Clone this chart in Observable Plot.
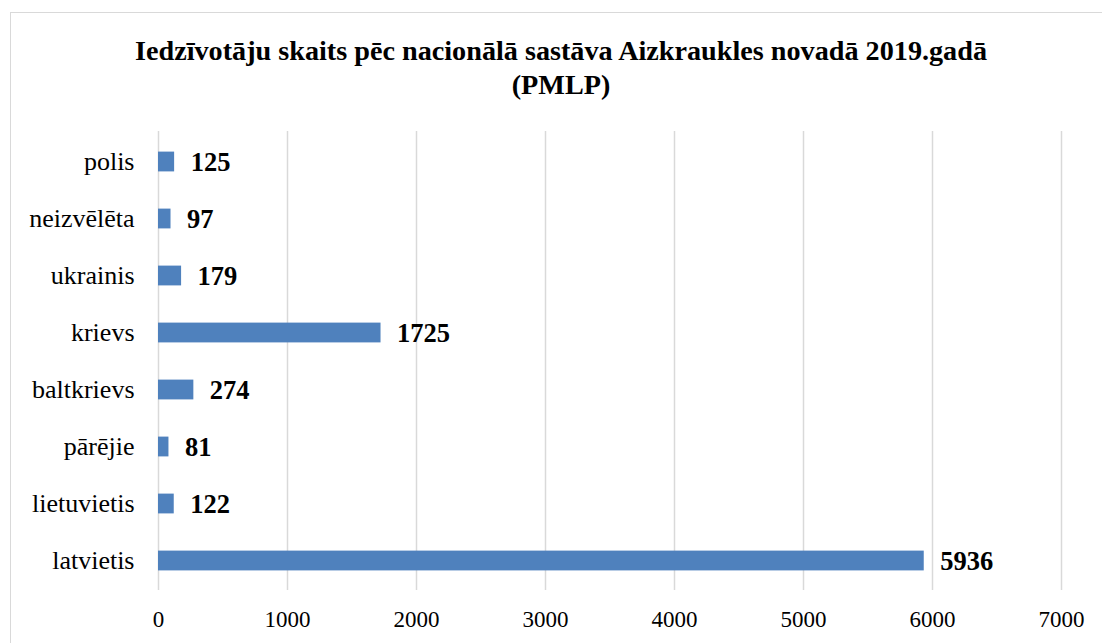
<!DOCTYPE html>
<html>
<head>
<meta charset="utf-8">
<script src="https://cdn.jsdelivr.net/npm/d3@7"></script>
<script src="https://cdn.jsdelivr.net/npm/@observablehq/plot@0.6"></script>
<style>
  html, body { margin: 0; padding: 0; background: #fff; overflow: hidden; }
  #wrap { position: relative; width: 1102px; height: 643px; font-family: 'Liberation Serif', 'Times New Roman', serif; }
  #frame { position: absolute; left: 10px; top: 12px; width: 1110px; height: 660px; border: 1.5px solid #d9d9d9; box-sizing: border-box; }
  #title { position: absolute; left: 10px; width: 1102px; top: 34px; text-align: center; font-family: 'Liberation Serif', 'Times New Roman', serif; font-weight: bold; font-size: 28.2px; line-height: 33.5px; color: #000; }
  #chart { position: absolute; left: 0; top: 0; }
  #chart svg text { font-family: 'Liberation Serif', 'Times New Roman', serif; }
</style>
</head>
<body>
<div id="wrap">
  <div id="frame"></div>
  <div id="chart"></div>
  <div id="title">Iedzīvotāju skaits pēc nacionālā sastāva Aizkraukles novadā 2019.gadā<br>(PMLP)</div>
</div>
<script>
const categories = ["polis", "neizvēlēta", "ukrainis", "krievs", "baltkrievs", "pārējie", "lietuvietis", "latvietis"];
const values = [125, 97, 179, 1725, 274, 81, 122, 5936];
const xTicks = [0, 1000, 2000, 3000, 4000, 5000, 6000, 7000];

const data = categories.map((c, i) => ({category: c, value: values[i]}));

const chart = Plot.plot({
  width: 1102,
  height: 643,
  marginLeft: 158,
  marginRight: 41,
  marginTop: 131,
  marginBottom: 53,
  style: {fontFamily: "'Liberation Serif', 'Times New Roman', serif", background: "transparent", color: "#000"},
  x: {domain: [0, 7000], ticks: xTicks, label: null, tickSize: 0, tickPadding: 20, tickFormat: d => String(d)},
  y: {domain: categories, label: null, tickSize: 0, tickPadding: 24, padding: 0},
  marks: [
    Plot.gridX(xTicks, {stroke: "#d9d9d9", strokeOpacity: 1, strokeWidth: 1.5}),
    Plot.barX(data, {x: "value", y: "category", fill: "#4f81bd", insetTop: 18.6, insetBottom: 18.6}),
    Plot.text(data, {x: "value", y: "category", text: d => String(d.value), textAnchor: "start", dx: 16, dy: 1, fontWeight: "bold", fontSize: 26.5, fill: "#000"}),
    Plot.axisX(xTicks, {tickSize: 0, tickPadding: 20, fontSize: 23, tickFormat: d => String(d), label: null}),
    Plot.axisY({tickSize: 0, tickPadding: 24, fontSize: 26, label: null})
  ]
});
document.getElementById("chart").appendChild(chart);
</script>
</body>
</html>
